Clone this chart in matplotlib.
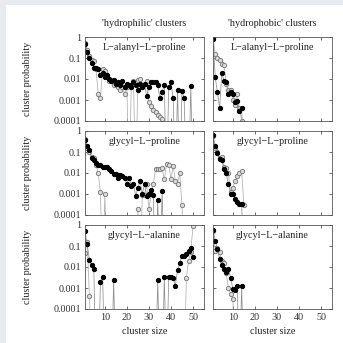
import numpy as np
import matplotlib.pyplot as plt
from matplotlib.patches import Rectangle

plt.rcParams['font.family'] = ['Liberation Serif', 'DejaVu Serif']

# cluster sizes
x_phil = np.arange(1, 51)
x_phob = np.arange(1, 16)

# 'hydrophilic' clusters (0 = no cluster of that size)
ala_pro_phil_a = [0.45, 0.2, 0.1, 0.06, 0.035, 0.035, 0.03, 0.015, 0.02, 0.012,
                  0.015, 0.01, 0.008, 0.009, 0.006, 0.007, 0.005, 0.008, 0.004, 0.006,
                  0.005, 0.004, 0.007, 0.005, 0.003, 0.006, 0.004, 0.006, 0.0015, 0.004,
                  0.007, 0.007, 0.007, 0.005, 0.0012, 0.0025, 0.005, 0, 0.004, 0.007,
                  0.0012, 0, 0.003, 0, 0.0027, 0.0012, 0, 0, 0.0046, 0]
ala_pro_phil_b = [0.5, 0.25, 0.12, 0.08, 0.07, 0.03, 0.002, 0.0012, 0.03, 0.025,
                  0.012, 0.008, 0.009, 0.005, 0.006, 0.004, 0.003, 0.004, 0.002, 0.004,
                  0, 0.005, 0.008, 0, 0.009, 0.01, 0.004, 0.006, 0.008, 0.0008,
                  0.0005, 0.00035, 0.00028, 0.0002, 0.00016, 0.00012, 0, 0, 0, 0,
                  0, 0, 0, 0, 0, 0, 0, 0, 0, 0]
gly_pro_phil_a = [0.38, 0.2, 0.13, 0.05, 0.04, 0.03, 0.025, 0.025, 0.02, 0.02,
                  0.02, 0.015, 0.012, 0.009, 0.009, 0.006, 0.008, 0.007, 0.006, 0.003,
                  0.006, 0.0025, 0.003, 0.0008, 0.002, 0.004, 0.001, 0.003, 0.0008, 0.001,
                  0.0015, 0.0009, 0, 0.0005, 0, 0.0014, 0, 0, 0, 0,
                  0, 0, 0, 0, 0, 0, 0, 0, 0, 0]
gly_pro_phil_b = [0.4, 0.15, 0.1, 0.06, 0.05, 0.025, 0.01, 0.0012, 0, 0.001,
                  0, 0, 0, 0, 0, 0, 0, 0, 0, 0,
                  0, 0, 0, 0, 0.0002, 0, 0.0009, 0.0009, 0.003, 0.0002,
                  0.001, 0.003, 0.015, 0.015, 0.015, 0.017, 0.005, 0.028, 0.025, 0.005,
                  0.022, 0.004, 0.003, 0.01, 0.0003, 0, 0, 0, 0, 0]
gly_ala_phil_a = [0.5, 0.12, 0.022, 0.012, 0.008, 0, 0, 0.002, 0.0035, 0,
                  0, 0, 0, 0.0023, 0, 0, 0, 0, 0, 0,
                  0, 0, 0, 0, 0, 0, 0, 0, 0, 0,
                  0, 0, 0, 0.0023, 0, 0, 0.0035, 0, 0.0035, 0.0033,
                  0.003, 0.0013, 0.007, 0.015, 0.035, 0.035, 0.04, 0.06, 0.08, 0.03]
gly_ala_phil_b = [0.045, 0.15, 0.0004, 0, 0, 0, 0, 0, 0, 0,
                  0, 0, 0, 0, 0, 0, 0, 0, 0, 0,
                  0, 0, 0, 0, 0, 0, 0, 0, 0, 0,
                  0, 0, 0, 0, 0, 0, 0, 0, 0, 0,
                  0, 0, 0, 0, 0, 0, 0.003, 0.02, 0.05, 0.9]

# 'hydrophobic' clusters
ala_pro_phob_a = [0.8, 0.012, 0.0025, 0.0004, 0.02, 0.008, 0.007, 0.002, 0.0025, 0.002,
                  0.0008, 0.0009, 0.0003, 0.0004, 0]
ala_pro_phob_b = [0.9, 0.15, 0.1, 0.08, 0.05, 0.045, 0.006, 0.003, 0.003, 0.001,
                  0.0006, 0.002, 0.0004, 0.0001, 0]
gly_pro_phob_a = [0.67, 0.19, 0.09, 0.045, 0.04, 0.015, 0.01, 0.003, 0.001, 0.001,
                  0.0006, 0.0004, 0.00035, 0.00035, 0]
gly_pro_phob_b = [0.6, 0.15, 0.1, 0.05, 0.06, 0.02, 0.018, 0.01, 0.0012, 0.002,
                  0.004, 0.007, 0.01, 0.0125, 0.0003]
gly_ala_phob_a = [0.6, 0.18, 0.07, 0.025, 0.012, 0.008, 0.006, 0.008, 0.003, 0.0009,
                  0.0008, 0.0012, 0, 0.0012, 0]
gly_ala_phob_b = [0.5, 0.06, 0.08, 0.05, 0.02, 0.015, 0.005, 0.001, 0.0005, 0.0003,
                  0, 0, 0, 0, 0]

col_titles = ["'hydrophilic' clusters", "'hydrophobic' clusters"]
row_names = ['L\u2212alanyl\u2212L\u2212proline', 'glycyl\u2212L\u2212proline',
             'glycyl\u2212L\u2212alanine']
yticks = [1e-4, 1e-3, 1e-2, 1e-1, 1]
ytick_labels = ['0.0001', '0.001', '0.01', '0.1', '1']
xticks = [10, 20, 30, 40, 50]

panels = [
    [(x_phil, ala_pro_phil_a, ala_pro_phil_b), (x_phob, ala_pro_phob_a, ala_pro_phob_b)],
    [(x_phil, gly_pro_phil_a, gly_pro_phil_b), (x_phob, gly_pro_phob_a, gly_pro_phob_b)],
    [(x_phil, gly_ala_phil_a, gly_ala_phil_b), (x_phob, gly_ala_phob_a, gly_ala_phob_b)],
]

W = H = 343
fig = plt.figure(figsize=(3.43, 3.43), dpi=100, facecolor='#e7ebef')
fig.patches.append(Rectangle((6 / W, 0), 1, 1 - 5 / H, transform=fig.transFigure,
                             facecolor='white', edgecolor='none', zorder=-1))

col_x = [85, 213]
col_w = 119
row_top = [37, 131, 225]
row_h = 84
fs = 7.3

def draw(ax, x, a, b):
    floor = 1e-7
    for vals, mfc, mec, lc in [(b, '#dcdcdc', '#808080', '#b0b0b0'),
                               (a, 'black', 'black', '#909090')]:
        v = np.array(vals, dtype=float)
        ax.plot(x, np.where(v > 0, v, floor), '-', color=lc, lw=0.55)
        m = v > 0
        ax.plot(x[m], v[m], 'o', ms=3.1, mfc=mfc, mec=mec, mew=0.7)

for r in range(3):
    for c in range(2):
        ax = fig.add_axes([col_x[c] / W, 1 - (row_top[r] + row_h) / H, col_w / W, row_h / H])
        x, a, b = panels[r][c]
        draw(ax, x, a, b)
        ax.set_yscale('log')
        ax.set_ylim(1e-4, 1)
        ax.set_xlim(1, 55)
        ax.set_yticks(yticks)
        ax.yaxis.set_minor_locator(plt.NullLocator())
        ax.set_xticks(xticks)
        ax.tick_params(direction='in', top=True, right=True, length=2.5, width=0.5,
                       labelsize=fs, pad=3, colors='#333')
        if c == 0:
            ax.set_yticklabels(ytick_labels)
        else:
            ax.set_yticklabels([])
        if r < 2:
            ax.set_xticklabels([])
        for s in ax.spines.values():
            s.set_linewidth(0.6)
            s.set_color('#555')
        ax.text(0.5, 0.88, row_names[r], transform=ax.transAxes, ha='center',
                va='center', fontsize=fs, color='#222')

for c in range(2):
    fig.text((col_x[c] + col_w / 2) / W, 1 - 24 / H, col_titles[c], ha='center',
             va='center', fontsize=fs, color='#222')
    fig.text((col_x[c] + col_w / 2) / W, 1 - 332 / H, 'cluster size', ha='center',
             va='center', fontsize=fs, color='#222')
for r in range(3):
    fig.text(27 / W, 1 - (row_top[r] + row_h / 2) / H, 'cluster probability',
             rotation=90, ha='center', va='center', fontsize=fs, color='#222')

fig.savefig('out.png', dpi=100, facecolor=fig.get_facecolor())
